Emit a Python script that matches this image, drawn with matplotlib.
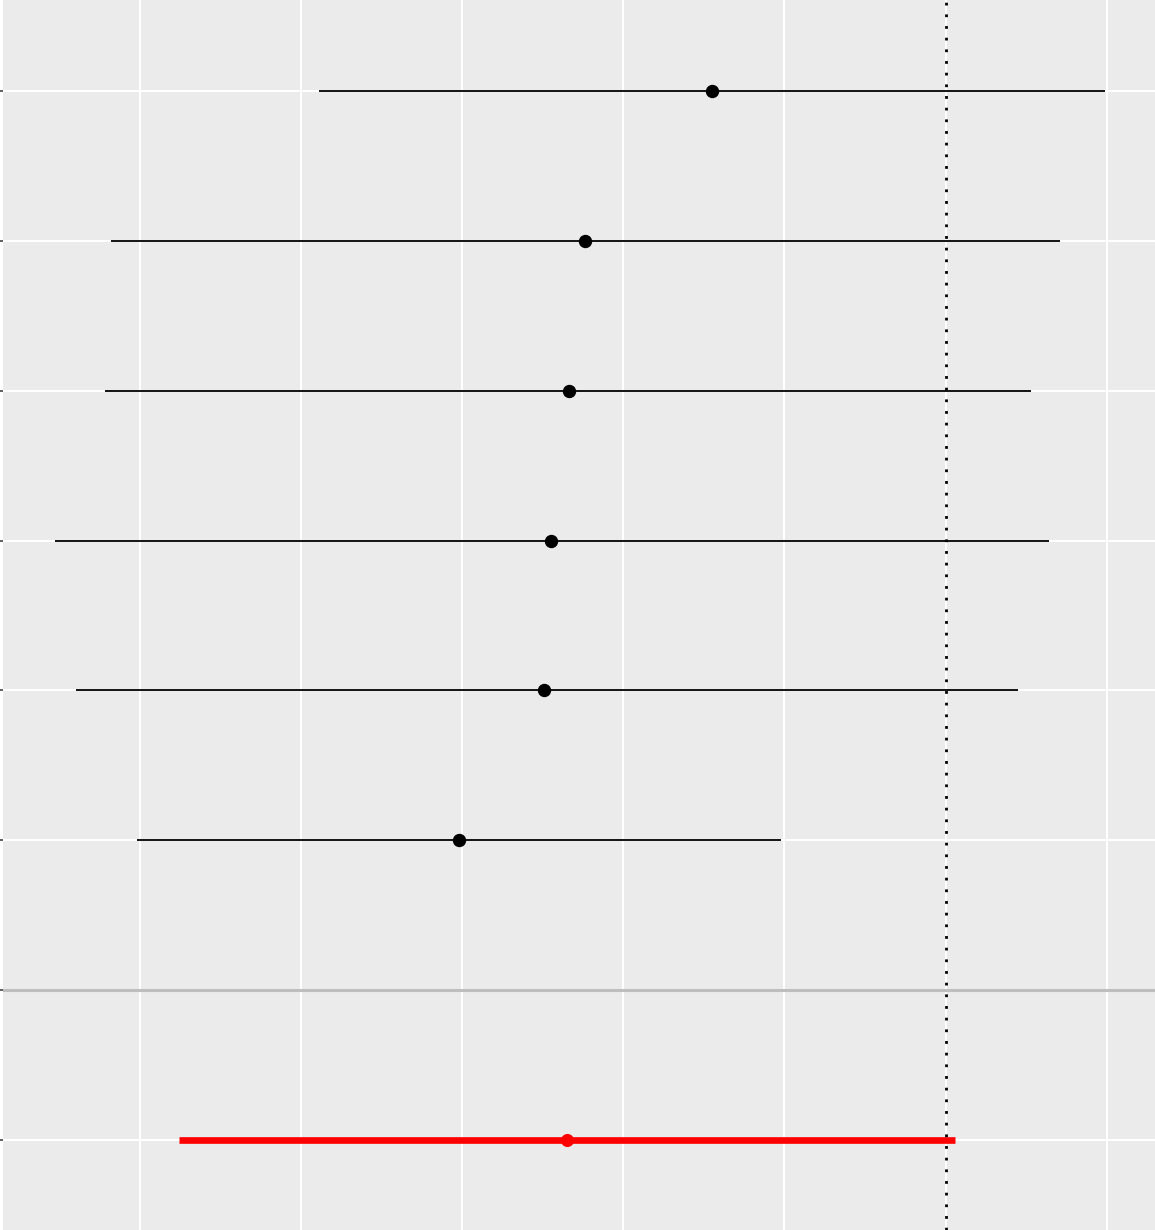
import numpy as np
import matplotlib
matplotlib.use("Agg")
import matplotlib.pyplot as plt

# rows from top to bottom (row 7 is the empty separator before the pooled estimate)
rows = [1, 2, 3, 4, 5, 6]
est = [-1.45, -2.24, -2.34, -2.45, -2.49, -3.02]
lower = [-3.89, -5.18, -5.22, -5.53, -5.40, -5.02]
upper = [0.99, 0.71, 0.53, 0.64, 0.45, -1.02]

pooled_row = 8
pooled_est = -2.35
pooled_lower = -4.76
pooled_upper = 0.06

separator_row = 7
null_value = 0.0
x_breaks = [-5, -4, -3, -2, -1, 0, 1]

fig = plt.figure(figsize=(11.55, 12.3), dpi=100)
ax = fig.add_axes([3 / 1155, 0, 1152 / 1155, 1])
ax.set_facecolor("#EBEBEB")
for s in ax.spines.values():
    s.set_visible(False)

# grid
for xb in x_breaks:
    ax.axvline(xb, color="white", lw=1.5, zorder=0)
for r in range(1, pooled_row + 1):
    ax.axhline(r, color="white", lw=1.5, zorder=0)

# separator line
ax.axhline(separator_row, color="#BEBEBE", lw=2.2, zorder=1)

# study estimates
ax.hlines(rows, lower, upper, color="black", lw=1.3, zorder=2)
ax.plot(est, rows, "o", color="black", ms=8.6, zorder=3)

# pooled estimate
ax.hlines(pooled_row, pooled_lower, pooled_upper, color="red", lw=4.8, zorder=2)
ax.plot(pooled_est, pooled_row, "o", color="red", ms=8.4, zorder=3)

# null line
ax.axvline(null_value, color="black", lw=2, linestyle=(0, (1, 3.2)), zorder=4)

ax.set_xlim(-5.85, 1.30)
ax.set_ylim(pooled_row + 0.6, 0.393)
ax.set_xticks([])
ax.set_yticks(range(1, pooled_row + 1))
ax.set_yticklabels([""] * pooled_row)
ax.tick_params(axis="y", length=2.2, width=1.1, color="#333333", pad=0)

fig.savefig("out.png", dpi=100)
